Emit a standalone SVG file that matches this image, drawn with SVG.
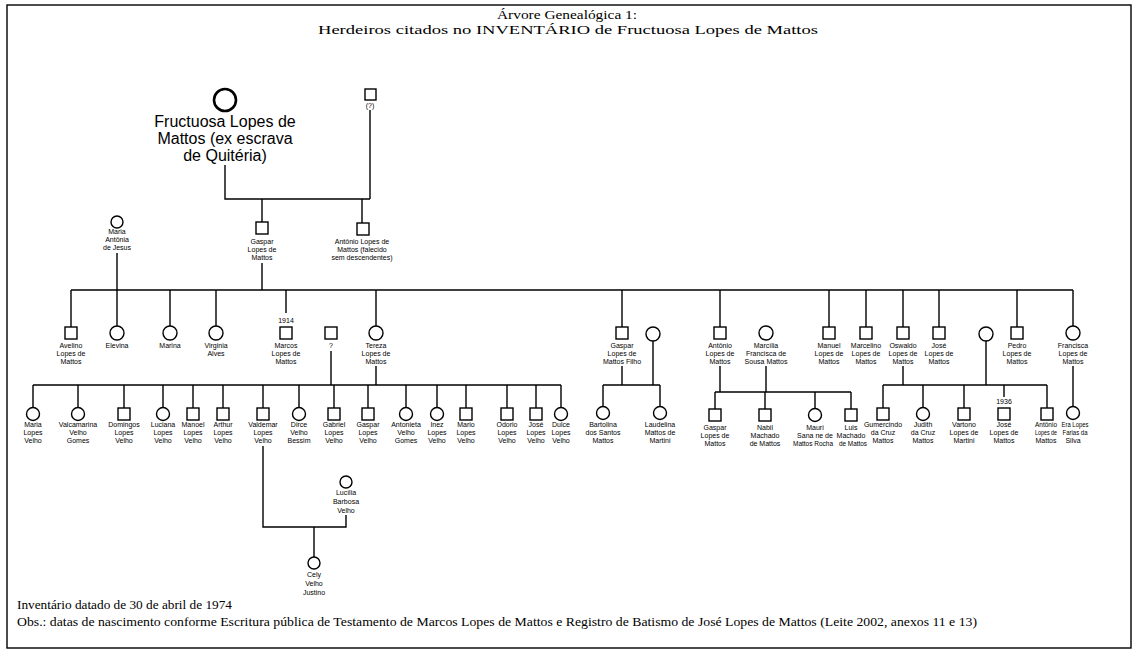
<svg xmlns="http://www.w3.org/2000/svg" width="1138" height="652" viewBox="0 0 1138 652">
<style>
.ln{fill:none;stroke:#000;stroke-width:1.4}
.s{fill:#fff;stroke:#000;stroke-width:1.4}
.t{font-family:"Liberation Sans",Arial,sans-serif;font-size:7px;text-anchor:middle;fill:#000}
.ti{font-family:"Liberation Serif","Times New Roman",serif;fill:#000}
</style>
<rect x="0" y="0" width="1138" height="652" fill="#fff"/>
<rect x="7" y="5" width="1124" height="643" class="ln"/>
<g id="title">
<text class="ti" x="567" y="19" font-size="13" text-anchor="middle" textLength="140" lengthAdjust="spacingAndGlyphs">Árvore Genealógica 1:</text>
<text class="ti" x="568" y="34" font-size="13" text-anchor="middle" textLength="500" lengthAdjust="spacingAndGlyphs">Herdeiros citados no INVENTÁRIO  de Fructuosa Lopes de Mattos</text>
</g>
<g id="connectors">
<path class="ln" d="M225 165V199H370M370 110V199M262 199V222M362 199V223"/>
<path class="ln" d="M117 253V290M262 263V290M71 290H1073"/>
<path class="ln" d="M71 290V327M117 290V326M170 290V326M216 290V326M286 290V313M376 290V326M622 290V327M720 290V327M829 290V327M866 290V327M903 290V327M939 290V327M1017 290V327M1073 290V326"/>
<path class="ln" d="M331 351V385M376 366V385M33 385H561"/>
<path class="ln" d="M33 385V407M78 385V407M124 385V408M163 385V407M193 385V408M223 385V408M263 385V408M299 385V407M334 385V408M368 385V408M406 385V407M437 385V407M466 385V408M507 385V408M536 385V408M561 385V407"/>
<path class="ln" d="M263 446V527H346V515M314 527V557"/>
<path class="ln" d="M622 366V385M653 341V385M603 385H660M603 385V406M660 385V406"/>
<path class="ln" d="M720 366V392M766 366V392M715 392H851M715 392V409M765 392V409M815 392V408M851 392V409"/>
<path class="ln" d="M903 366V385M986 341V385M883 385H1047M883 385V408M923 385V407M964 385V408M1004 385V397M1047 385V408"/>
<path class="ln" d="M1073 366V406"/>
</g>
<g id="fructuosa">
<circle cx="225" cy="100" r="11" fill="#fff" stroke="#000" stroke-width="2.6"/>
<text x="225" y="127" font-family="Liberation Sans,Arial,sans-serif" font-size="16" text-anchor="middle">Fructuosa Lopes de</text>
<text x="225" y="144" font-family="Liberation Sans,Arial,sans-serif" font-size="16" text-anchor="middle">Mattos (ex escrava</text>
<text x="225" y="161" font-family="Liberation Sans,Arial,sans-serif" font-size="16" text-anchor="middle">de Quitéria)</text>
</g>
<g id="husband"><rect class="s" x="365" y="89" width="11" height="11"/><text class="t" x="370" y="108" font-size="5">(?)</text></g>
<g id="maria_antonia"><circle class="s" cx="117" cy="222" r="6"/><text class="t" x="117" y="234">Maria</text><text class="t" x="117" y="242">Antônia</text><text class="t" x="117" y="250">de Jesus</text></g>
<g id="gaspar"><rect class="s" x="256" y="222" width="12" height="12"/><text class="t" x="262" y="244">Gaspar</text><text class="t" x="262" y="252">Lopes de</text><text class="t" x="262" y="260">Mattos</text></g>
<g id="antonio"><rect class="s" x="357" y="223" width="12" height="12"/><text class="t" x="362" y="244">Antônio Lopes de</text><text class="t" x="362" y="252">Mattos (falecido</text><text class="t" x="362" y="260">sem descendentes)</text></g>

<g id="avelino"><rect class="s" x="65" y="327" width="12" height="12"/><text class="t" x="71" y="348">Avelino</text><text class="t" x="71" y="356">Lopes de</text><text class="t" x="71" y="364">Mattos</text></g>
<g id="elevina"><circle class="s" cx="117" cy="333" r="7"/><text class="t" x="117" y="348">Elevina</text></g>
<g id="marina"><circle class="s" cx="170" cy="333" r="7"/><text class="t" x="170" y="348">Marina</text></g>
<g id="virginia"><circle class="s" cx="216" cy="333" r="7"/><text class="t" x="216" y="348">Virginia</text><text class="t" x="216" y="356">Alves</text></g>
<g id="marcos"><text class="t" x="286" y="323">1914</text><rect class="s" x="280" y="327" width="12" height="12"/><text class="t" x="286" y="348">Marcos</text><text class="t" x="286" y="356">Lopes de</text><text class="t" x="286" y="364">Mattos</text></g>
<g id="velho"><rect class="s" x="325" y="327" width="12" height="12"/><text class="t" x="331" y="348">?</text></g>
<g id="tereza"><circle class="s" cx="376" cy="333" r="7"/><text class="t" x="376" y="348">Tereza</text><text class="t" x="376" y="356">Lopes de</text><text class="t" x="376" y="364">Mattos</text></g>
<g id="gaspar_filho"><rect class="s" x="616" y="327" width="12" height="12"/><text class="t" x="622" y="348">Gaspar</text><text class="t" x="622" y="356">Lopes de</text><text class="t" x="622" y="364">Mattos Filho</text></g>
<g id="esposa_gaspar"><circle class="s" cx="653" cy="334" r="7"/></g>
<g id="antonio2"><rect class="s" x="714" y="327" width="12" height="12"/><text class="t" x="720" y="348">Antônio</text><text class="t" x="720" y="356">Lopes de</text><text class="t" x="720" y="364">Mattos</text></g>
<g id="marcilia"><circle class="s" cx="766" cy="333" r="7"/><text class="t" x="766" y="348">Marcília</text><text class="t" x="766" y="356">Francisca de</text><text class="t" x="766" y="364">Sousa Mattos</text></g>
<g id="manuel"><rect class="s" x="823" y="327" width="12" height="12"/><text class="t" x="829" y="348">Manuel</text><text class="t" x="829" y="356">Lopes de</text><text class="t" x="829" y="364">Mattos</text></g>
<g id="marcelino"><rect class="s" x="860" y="327" width="12" height="12"/><text class="t" x="866" y="348">Marcelino</text><text class="t" x="866" y="356">Lopes de</text><text class="t" x="866" y="364">Mattos</text></g>
<g id="oswaldo"><rect class="s" x="897" y="327" width="12" height="12"/><text class="t" x="903" y="348">Oswaldo</text><text class="t" x="903" y="356">Lopes de</text><text class="t" x="903" y="364">Mattos</text></g>
<g id="jose1"><rect class="s" x="933" y="327" width="12" height="12"/><text class="t" x="939" y="348">José</text><text class="t" x="939" y="356">Lopes de</text><text class="t" x="939" y="364">Mattos</text></g>
<g id="esposa_oswaldo"><circle class="s" cx="986" cy="334" r="7"/></g>
<g id="pedro"><rect class="s" x="1011" y="327" width="12" height="12"/><text class="t" x="1017" y="348">Pedro</text><text class="t" x="1017" y="356">Lopes de</text><text class="t" x="1017" y="364">Mattos</text></g>
<g id="francisca"><circle class="s" cx="1073" cy="333" r="7"/><text class="t" x="1073" y="348">Francisca</text><text class="t" x="1073" y="356">Lopes de</text><text class="t" x="1073" y="364">Mattos</text></g>

<g id="maria_lv"><circle class="s" cx="33" cy="414" r="6.5"/><text class="t" x="33" y="427">Maria</text><text class="t" x="33" y="435">Lopes</text><text class="t" x="33" y="443">Velho</text></g>
<g id="valcamarina"><circle class="s" cx="78" cy="414" r="6.5"/><text class="t" x="78" y="427">Valcamarina</text><text class="t" x="78" y="435">Velho</text><text class="t" x="78" y="443">Gomes</text></g>
<g id="domingos"><rect class="s" x="118" y="408" width="12" height="12"/><text class="t" x="124" y="427">Domingos</text><text class="t" x="124" y="435">Lopes</text><text class="t" x="124" y="443">Velho</text></g>
<g id="luciana"><circle class="s" cx="163" cy="414" r="6.5"/><text class="t" x="163" y="427">Luciana</text><text class="t" x="163" y="435">Lopes</text><text class="t" x="163" y="443">Velho</text></g>
<g id="manoel"><rect class="s" x="187" y="408" width="12" height="12"/><text class="t" x="193" y="427">Manoel</text><text class="t" x="193" y="435">Lopes</text><text class="t" x="193" y="443">Velho</text></g>
<g id="arthur"><rect class="s" x="217" y="408" width="12" height="12"/><text class="t" x="223" y="427">Arthur</text><text class="t" x="223" y="435">Lopes</text><text class="t" x="223" y="443">Velho</text></g>
<g id="valdemar"><rect class="s" x="257" y="408" width="12" height="12"/><text class="t" x="263" y="427">Valdemar</text><text class="t" x="263" y="435">Lopes</text><text class="t" x="263" y="443">Velho</text></g>
<g id="dirce"><circle class="s" cx="299" cy="414" r="6.5"/><text class="t" x="299" y="427">Dirce</text><text class="t" x="299" y="435">Velho</text><text class="t" x="299" y="443">Bessim</text></g>
<g id="gabriel"><rect class="s" x="328" y="408" width="12" height="12"/><text class="t" x="334" y="427">Gabriel</text><text class="t" x="334" y="435">Lopes</text><text class="t" x="334" y="443">Velho</text></g>
<g id="gaspar_lv"><rect class="s" x="362" y="408" width="12" height="12"/><text class="t" x="368" y="427">Gaspar</text><text class="t" x="368" y="435">Lopes</text><text class="t" x="368" y="443">Velho</text></g>
<g id="antonieta"><circle class="s" cx="406" cy="414" r="6.5"/><text class="t" x="406" y="427">Antonieta</text><text class="t" x="406" y="435">Velho</text><text class="t" x="406" y="443">Gomes</text></g>
<g id="inez"><circle class="s" cx="437" cy="414" r="6.5"/><text class="t" x="437" y="427">Inez</text><text class="t" x="437" y="435">Lopes</text><text class="t" x="437" y="443">Velho</text></g>
<g id="mario"><rect class="s" x="460" y="408" width="12" height="12"/><text class="t" x="466" y="427">Mario</text><text class="t" x="466" y="435">Lopes</text><text class="t" x="466" y="443">Velho</text></g>
<g id="odorio"><rect class="s" x="501" y="408" width="12" height="12"/><text class="t" x="507" y="427">Odorio</text><text class="t" x="507" y="435">Lopes</text><text class="t" x="507" y="443">Velho</text></g>
<g id="jose_lv"><rect class="s" x="530" y="408" width="12" height="12"/><text class="t" x="536" y="427">José</text><text class="t" x="536" y="435">Lopes</text><text class="t" x="536" y="443">Velho</text></g>
<g id="dulce"><circle class="s" cx="561" cy="414" r="6.5"/><text class="t" x="561" y="427">Dulce</text><text class="t" x="561" y="435">Lopes</text><text class="t" x="561" y="443">Velho</text></g>

<g id="bartolina"><circle class="s" cx="603" cy="413" r="6.5"/><text class="t" x="603" y="427">Bartolina</text><text class="t" x="603" y="435">dos Santos</text><text class="t" x="603" y="443">Mattos</text></g>
<g id="laudelina"><circle class="s" cx="660" cy="413" r="6.5"/><text class="t" x="660" y="427">Laudelina</text><text class="t" x="660" y="435">Mattos de</text><text class="t" x="660" y="443">Martini</text></g>

<g id="gaspar_lm"><rect class="s" x="709" y="409" width="12" height="12"/><text class="t" x="715" y="430">Gaspar</text><text class="t" x="715" y="438">Lopes de</text><text class="t" x="715" y="446">Mattos</text></g>
<g id="nabil"><rect class="s" x="759" y="409" width="12" height="12"/><text class="t" x="765" y="430">Nabil</text><text class="t" x="765" y="438">Machado</text><text class="t" x="765" y="446">de Mattos</text></g>
<g id="mauri"><circle class="s" cx="815" cy="415" r="6.5"/><text class="t" x="815" y="430">Mauri</text><text class="t" x="815" y="438">Sana ne de</text><text class="t" x="813" y="446" textLength="40" lengthAdjust="spacingAndGlyphs">Mattos Rocha</text></g>
<g id="luis"><rect class="s" x="845" y="409" width="12" height="12"/><text class="t" x="851" y="430">Luis</text><text class="t" x="851" y="438">Machado</text><text class="t" x="853" y="446" textLength="28" lengthAdjust="spacingAndGlyphs">de Mattos</text></g>

<g id="gumercindo"><rect class="s" x="877" y="408" width="12" height="12"/><text class="t" x="883" y="427">Gumercindo</text><text class="t" x="883" y="435">da Cruz</text><text class="t" x="883" y="443">Mattos</text></g>
<g id="judith"><circle class="s" cx="923" cy="414" r="6.5"/><text class="t" x="923" y="427">Judith</text><text class="t" x="923" y="435">da Cruz</text><text class="t" x="923" y="443">Mattos</text></g>
<g id="vartono"><rect class="s" x="958" y="408" width="12" height="12"/><text class="t" x="964" y="427">Vartono</text><text class="t" x="964" y="435">Lopes de</text><text class="t" x="964" y="443">Martini</text></g>
<g id="jose2"><text class="t" x="1004" y="404">1936</text><rect class="s" x="998" y="408" width="12" height="12"/><text class="t" x="1004" y="427">José</text><text class="t" x="1004" y="435">Lopes de</text><text class="t" x="1004" y="443">Mattos</text></g>
<g id="antonio3"><rect class="s" x="1041" y="408" width="12" height="12"/><text class="t" x="1046" y="427" textLength="22" lengthAdjust="spacingAndGlyphs">Antônio</text><text class="t" x="1046" y="435" textLength="22" lengthAdjust="spacingAndGlyphs">Lopes de</text><text class="t" x="1046" y="443">Mattos</text></g>
<g id="era"><circle class="s" cx="1073" cy="413" r="6.5"/><text class="t" x="1075" y="427" textLength="27" lengthAdjust="spacingAndGlyphs">Era Lopes</text><text class="t" x="1075" y="435" textLength="25" lengthAdjust="spacingAndGlyphs">Farias da</text><text class="t" x="1073" y="443">Silva</text></g>

<g id="lucilia"><circle class="s" cx="346" cy="482" r="6"/><text class="t" x="346" y="495">Lucília</text><text class="t" x="346" y="504">Barbosa</text><text class="t" x="346" y="513">Velho</text></g>
<g id="cely"><circle class="s" cx="314" cy="563" r="6"/><text class="t" x="314" y="577">Cely</text><text class="t" x="314" y="586">Velho</text><text class="t" x="314" y="595">Justino</text></g>

<g id="footer">
<text class="ti" x="17" y="609" font-size="13" textLength="215" lengthAdjust="spacingAndGlyphs">Inventário datado de 30 de abril de 1974</text>
<text class="ti" x="17" y="626" font-size="13" textLength="960" lengthAdjust="spacingAndGlyphs">Obs.: datas de nascimento conforme Escritura pública de Testamento de Marcos Lopes de Mattos e Registro de Batismo de José Lopes de Mattos (Leite 2002, anexos 11 e 13)</text>
</g>
</svg>
